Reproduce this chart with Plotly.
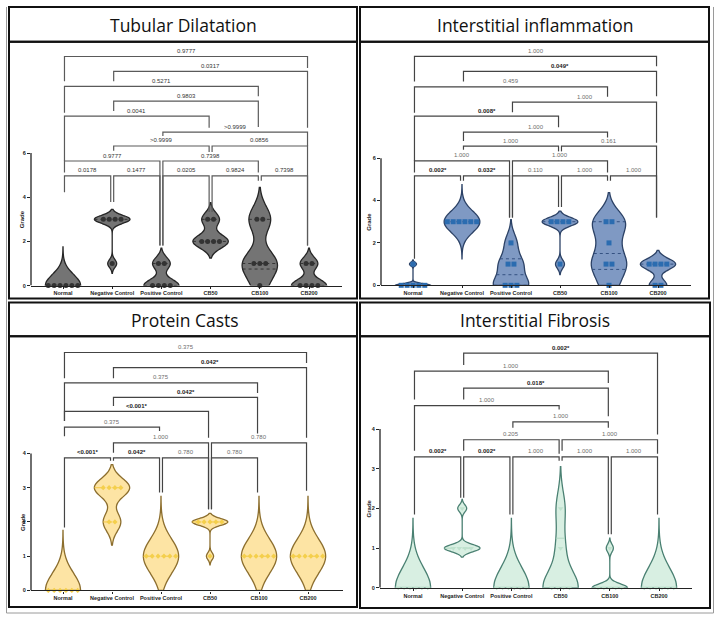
import numpy as np
import plotly.graph_objects as go

W, H = 718, 618

GROUPS = ["Normal", "Negative Control", "Positive Control", "CB50", "CB100", "CB200"]

# ---------------- data (grades per animal) ----------------
TUBULAR = [
    [0, 0, 0, 0, 0, 0],
    [3, 3, 3, 3, 1],
    [1, 1, 0, 0, 0, 0],
    [3, 3, 2, 2, 2, 2],
    [3, 3, 1, 1, 1, 0],
    [1, 1, 0, 0, 0, 0],
]
INFLAM = [
    [1, 0, 0, 0, 0, 0],
    [3, 3, 3, 3, 3, 3],
    [2, 1, 1, 0, 0, 0],
    [3, 3, 3, 3, 1],
    [3, 3, 2, 1, 1, 0],
    [1, 1, 1, 1, 0, 0],
]
CASTS = [
    [0, 0, 0, 0, 0, 0],
    [3, 3, 3, 3, 2, 2],
    [1, 1, 1, 1, 1, 1],
    [2, 2, 2, 2, 2, 1],
    [1, 1, 1, 1, 1, 1],
    [1, 1, 1, 1, 1, 1],
]
FIBROSIS = [
    [0, 0, 0, 0, 0, 0],
    [2, 1, 1, 1, 1],
    [0, 0, 0, 0, 0, 0],
    [2, 1, 0, 0, 0, 0],
    [1, 0, 0, 0, 0, 0],
    [0, 0, 0, 0, 0, 0],
]

# kernel bandwidths (violin smoothing)
TUBULAR_BW = [0.5, 0.18, 0.28, 0.3, 0.58, 0.28]
INFLAM_BW = [0.08, 0.5, 0.44, 0.2, 0.55, 0.26]
CASTS_BW = [0.5, 0.27, 0.5, 0.1, 0.5, 0.5]
FIBROSIS_BW = [0.5, 0.09, 0.5, 0.42, 0.1, 0.5]

# p-values: (label, group a, group b, significant)
TUBULAR_P = [
    ("0.9777", 0, 5, False), ("0.0317", 1, 5, False), ("0.5271", 0, 4, False),
    ("0.9803", 1, 4, False), ("0.0041", 0, 3, False), (">0.9999", 2, 5, False),
    (">0.9999", 1, 3, False), ("0.0856", 3, 5, False), ("0.9777", 0, 2, False),
    ("0.7398", 2, 4, False), ("0.0178", 0, 1, False), ("0.1477", 1, 2, False),
    ("0.0205", 2, 3, False), ("0.9824", 3, 4, False), ("0.7398", 4, 5, False),
]
INFLAM_P = [
    ("1.000", 0, 5, False), ("0.049*", 1, 5, True), ("0.459", 0, 4, False),
    ("1.000", 2, 5, False), ("0.008*", 0, 3, True), ("1.000", 1, 4, False),
    ("1.000", 1, 3, False), ("0.161", 3, 5, False), ("1.000", 0, 2, False),
    ("1.000", 2, 4, False), ("0.002*", 0, 1, True), ("0.032*", 1, 2, True),
    ("0.110", 2, 3, False), ("1.000", 3, 4, False), ("1.000", 4, 5, False),
]
CASTS_P = [
    ("0.375", 0, 5, False), ("0.042*", 1, 5, True), ("0.375", 0, 4, False),
    ("0.042*", 1, 4, True), ("<0.001*", 0, 3, True), ("0.375", 0, 2, False),
    ("1.000", 1, 3, False), ("0.780", 3, 5, False), ("<0.001*", 0, 1, True),
    ("0.042*", 1, 2, True), ("0.780", 2, 3, False), ("0.780", 3, 4, False),
]
FIBROSIS_P = [
    ("0.002*", 1, 5, True), ("1.000", 0, 4, False), ("0.018*", 1, 4, True),
    ("1.000", 0, 3, False), ("1.000", 2, 4, False), ("0.205", 1, 3, False),
    ("1.000", 3, 5, False), ("0.002*", 0, 1, True), ("0.002*", 1, 2, True),
    ("1.000", 2, 3, False), ("1.000", 3, 4, False), ("1.000", 4, 5, False),
]

# bracket geometry in grade units: (bar level, left leg end, right leg end)
TUBULAR_BR = [
    (10.37, 9.25, 9.85), (9.70, 9.25, 7.15), (9.02, 7.82, 8.57), (8.35, 7.90, 7.18),
    (7.67, 5.64, 7.15), (6.95, 6.77, 6.32), (6.32, 6.10, 6.05), (6.32, 6.05, 1.82),
    (5.64, 5.12, 1.82), (5.64, 1.82, 5.12), (4.97, 4.23, 3.78), (4.97, 3.78, 1.82),
    (4.97, 1.82, 3.33), (4.97, 3.33, 4.75), (4.97, 4.75, 1.82),
]
INFLAM_BR = [
    (10.80, 9.62, 10.33), (10.09, 9.62, 8.92), (9.36, 8.14, 8.89), (8.64, 8.17, 6.73),
    (7.98, 5.87, 7.46), (7.23, 6.81, 6.81), (6.57, 6.40, 6.30), (6.57, 6.30, 3.20),
    (5.87, 5.32, 3.20), (5.87, 3.20, 5.32), (5.16, 1.25, 4.93), (5.16, 4.93, 3.20),
    (5.16, 3.20, 3.69), (5.16, 3.69, 4.93), (5.16, 4.93, 3.20),
]
CASTS_BR = [
    (6.95, 6.20, 6.64), (6.51, 6.20, 4.46), (6.06, 4.95, 5.77), (5.64, 5.39, 4.46),
    (5.23, 4.95, 4.46), (4.77, 4.50, 4.66), (4.31, 4.02, 2.37), (4.31, 2.37, 2.91),
    (3.87, 1.84, 3.79), (3.87, 3.79, 2.86), (3.87, 2.86, 2.37), (3.87, 2.37, 2.86),
]
FIBROSIS_BR = [
    (5.91, 5.61, 3.86), (5.46, 4.74, 5.16), (5.03, 4.74, 4.32), (4.59, 3.45, 4.49),
    (4.18, 4.03, 4.03), (3.73, 3.45, 3.38), (3.73, 3.45, 3.38), (3.30, 1.85, 2.27),
    (3.30, 2.27, 1.85), (3.30, 1.85, 3.20), (3.30, 3.20, 1.35), (3.30, 1.35, 1.85),
]

FONT = "Liberation Sans"

PANELS = [
    dict(title="Tubular Dilatation", data=TUBULAR, bw=TUBULAR_BW, pv=TUBULAR_P, br=TUBULAR_BR,
         ax=(31, 342), cats=(63, 309), y0=287, scale=22.2, top=45, yticks=[0, 2, 4, 6],
         box=(9, 357, 7, 42, 300), tcenter=(183, 25), gx=17,
         fill="#747474", line="#262626", mcol="#333333", msym="circle", msize=5,
         qcol="#2f2f2f", qdash="dot", pcol="#333333", pcol_sig="#222222", brcol="#5a5a5a"),
    dict(title="Interstitial inflammation", data=INFLAM, bw=INFLAM_BW, pv=INFLAM_P, br=INFLAM_BR,
         ax=(381, 691), cats=(413, 658), y0=286.7, scale=21.3, top=45, yticks=[0, 2, 4, 6],
         box=(360, 709, 7, 42, 300), tcenter=(535, 25), gx=369,
         fill="#7f99c3", line="#2c4266", mcol="#2b6cb0", msym="square", msize=5,
         qcol="#2c4a7a", qdash="dot", pcol="#6e6e6e", pcol_sig="#222222", brcol="#444444"),
    dict(title="Protein Casts", data=CASTS, bw=CASTS_BW, pv=CASTS_P, br=CASTS_BR,
         ax=(31, 343), cats=(63, 308), y0=593.3, scale=34.4, top=342, yticks=[0, 1, 2, 3, 4],
         box=(9, 357, 304, 338, 610), tcenter=(185, 322), gx=18,
         fill="#fde4a4", line="#8c6e2e", mcol="#f4cf4c", msym="diamond", msize=4,
         qcol="#f1c43c", qdash="dash", pcol="#6e6e6e", pcol_sig="#222222", brcol="#444444"),
    dict(title="Interstitial Fibrosis", data=FIBROSIS, bw=FIBROSIS_BW, pv=FIBROSIS_P, br=FIBROSIS_BR,
         ax=(380, 692), cats=(413, 659), y0=590.7, scale=39.9, top=342, yticks=[0, 1, 2, 3, 4],
         box=(360, 710, 304, 338, 611), tcenter=(535, 322), gx=369,
         fill="#d8efe2", line="#4a8072", mcol="#bfe2ce", msym="triangle-down", msize=5,
         qcol="#aed6c0", qdash="dash", pcol="#6e6e6e", pcol_sig="#222222", brcol="#444444"),
]

VWIDTH = 0.72
DX = 0.12
INSET = 0.03


def px(x):
    return x / W


def py(y):
    return 1 - y / H


def span_of(vals, bw):
    v = np.asarray(vals, float)
    k = 3.5 if v.min() == v.max() else 2.5
    return [max(0.0, v.min() - k * bw), v.max() + k * bw]


def density(vals, bw, ys):
    v = np.asarray(vals, float)[:, None]
    return np.exp(-0.5 * ((ys[None, :] - v) / bw) ** 2).sum(axis=0)


fig = go.Figure()
shapes = []
annotations = []
layout = {}

for p_i, P in enumerate(PANELS):
    n = p_i + 1
    xa = "x" if n == 1 else f"x{n}"
    ya = "y" if n == 1 else f"y{n}"
    xkey = "xaxis" if n == 1 else f"xaxis{n}"
    ykey = "yaxis" if n == 1 else f"yaxis{n}"

    c0, c5 = P["cats"]
    sp = (c5 - c0) / 5.0
    xlo = (P["ax"][0] - c0) / sp
    xhi = 5 + (P["ax"][1] - c5) / sp
    ytop = (P["y0"] - P["top"]) / P["scale"]

    layout[xkey] = dict(
        domain=[px(P["ax"][0]), px(P["ax"][1])], range=[xlo, xhi], anchor=ya,
        tickvals=list(range(6)), ticktext=[f"<b>{g}</b>" for g in GROUPS],
        tickangle=0,
        showline=True, linecolor="#222222", linewidth=1.3, ticks="outside",
        ticklen=2, tickwidth=1, tickcolor="#222222",
        tickfont=dict(size=5.5, family=FONT, color="#222222"),
        showgrid=False, zeroline=False, fixedrange=True,
    )
    layout[ykey] = dict(
        domain=[py(P["y0"]), py(P["top"])], range=[0, ytop], anchor=xa,
        tickvals=P["yticks"], ticktext=[f"<b>{t}</b>" for t in P["yticks"]],
        showline=False, ticks="outside", ticklen=3, tickwidth=1, tickcolor="#222222",
        tickfont=dict(size=5.5, family=FONT, color="#222222"),
        showgrid=False, zeroline=False, fixedrange=True,
    )
    shapes.append(dict(type="line", xref=f"{xa} domain", yref=ya, x0=0, x1=0,
                       y0=0, y1=max(P["yticks"]), line=dict(color="#222222", width=1.3)))

    for g, vals in enumerate(P["data"]):
        bw = P["bw"][g]
        span = span_of(vals, bw)
        fig.add_trace(go.Violin(
            x=[g] * len(vals), y=vals, xaxis=xa, yaxis=ya, width=VWIDTH,
            bandwidth=bw, spanmode="manual", span=span, scalemode="width",
            fillcolor=P["fill"], line=dict(color=P["line"], width=1.3),
            points=False, hoverinfo="skip", showlegend=False, opacity=1,
        ))
        # median & quartile lines
        ys = np.linspace(span[0], span[1], 600)
        dmax = density(vals, bw, ys).max()
        qs = np.percentile(vals, [25, 50, 75], method="weibull")
        for q in sorted(set(np.round(qs, 6))):
            hw = VWIDTH / 2 * density(vals, bw, np.array([q]))[0] / dmax
            if hw < 0.02:
                continue
            fig.add_trace(go.Scatter(
                x=[g - hw, g + hw], y=[q, q], xaxis=xa, yaxis=ya, mode="lines",
                line=dict(color=P["qcol"], width=0.9, dash=P["qdash"]),
                hoverinfo="skip", showlegend=False, cliponaxis=False,
            ))
        # points spread horizontally
        xs, yv = [], []
        uniq, counts = np.unique(vals, return_counts=True)
        for u, m in zip(uniq, counts):
            for k in range(m):
                xs.append(g + (k - (m - 1) / 2) * DX)
                yv.append(u)
        fig.add_trace(go.Scatter(
            x=xs, y=yv, xaxis=xa, yaxis=ya, mode="markers",
            marker=dict(symbol=P["msym"], size=P["msize"], color=P["mcol"], line=dict(width=0)),
            hoverinfo="skip", showlegend=False, cliponaxis=False,
        ))

    # significance brackets
    for (label, a, b, sig), (lvl, ld, rd) in zip(P["pv"], P["br"]):
        x1, x2 = a + INSET, b - INSET
        shapes.append(dict(
            type="path", xref=xa, yref=ya,
            path=f"M {x1},{ld} L {x1},{lvl} L {x2},{lvl} L {x2},{rd}",
            line=dict(color=P["brcol"], width=1.2),
        ))
        annotations.append(dict(
            xref=xa, yref=ya, x=(a + b) / 2, y=lvl, yanchor="bottom", yshift=1.5,
            text=f"<b>{label}</b>" if sig else label, showarrow=False,
            bgcolor="white", borderpad=0,
            font=dict(size=6, family=FONT, color=P["pcol_sig"] if sig else P["pcol"]),
        ))

    # y title
    annotations.append(dict(
        xref="paper", yref=ya, x=px(P["gx"]), y=max(P["yticks"]) / 2, text="<b>Grade</b>",
        textangle=-90, showarrow=False, font=dict(size=6, family=FONT, color="#222222"),
    ))

    # panel frames and title
    L, R, T, M, B = P["box"]
    shapes.append(dict(type="rect", xref="paper", yref="paper", x0=px(L), x1=px(R),
                       y0=py(M), y1=py(T), line=dict(color="#111111", width=2)))
    shapes.append(dict(type="rect", xref="paper", yref="paper", x0=px(L), x1=px(R),
                       y0=py(B), y1=py(M), line=dict(color="#111111", width=2)))
    annotations.append(dict(
        xref="paper", yref="paper", x=px(P["tcenter"][0]), y=py(P["tcenter"][1]),
        text=P["title"], showarrow=False, xanchor="center", yanchor="middle",
        font=dict(size=17.5, family="Open Sans", color="#111111"),
    ))

# faint outer frame
shapes.append(dict(type="line", xref="paper", yref="paper", x0=px(6.5), x1=px(6.5),
                   y0=py(616), y1=py(7), line=dict(color="#9a9a9a", width=1)))
shapes.append(dict(type="line", xref="paper", yref="paper", x0=px(6.5), x1=px(713.5),
                   y0=py(616), y1=py(616), line=dict(color="#9a9a9a", width=1)))
shapes.append(dict(type="line", xref="paper", yref="paper", x0=px(713.5), x1=px(713.5),
                   y0=py(616), y1=py(7), line=dict(color="#9a9a9a", width=1)))

fig.update_layout(
    width=W, height=H, margin=dict(l=0, r=0, t=0, b=0),
    paper_bgcolor="white", plot_bgcolor="white",
    violinmode="overlay", showlegend=False,
    shapes=shapes, annotations=annotations, **layout,
)

fig.write_html(
    "out.html",
    config={"displayModeBar": False},
    post_script="document.body.style.margin='0';document.body.style.overflow='hidden';",
)
